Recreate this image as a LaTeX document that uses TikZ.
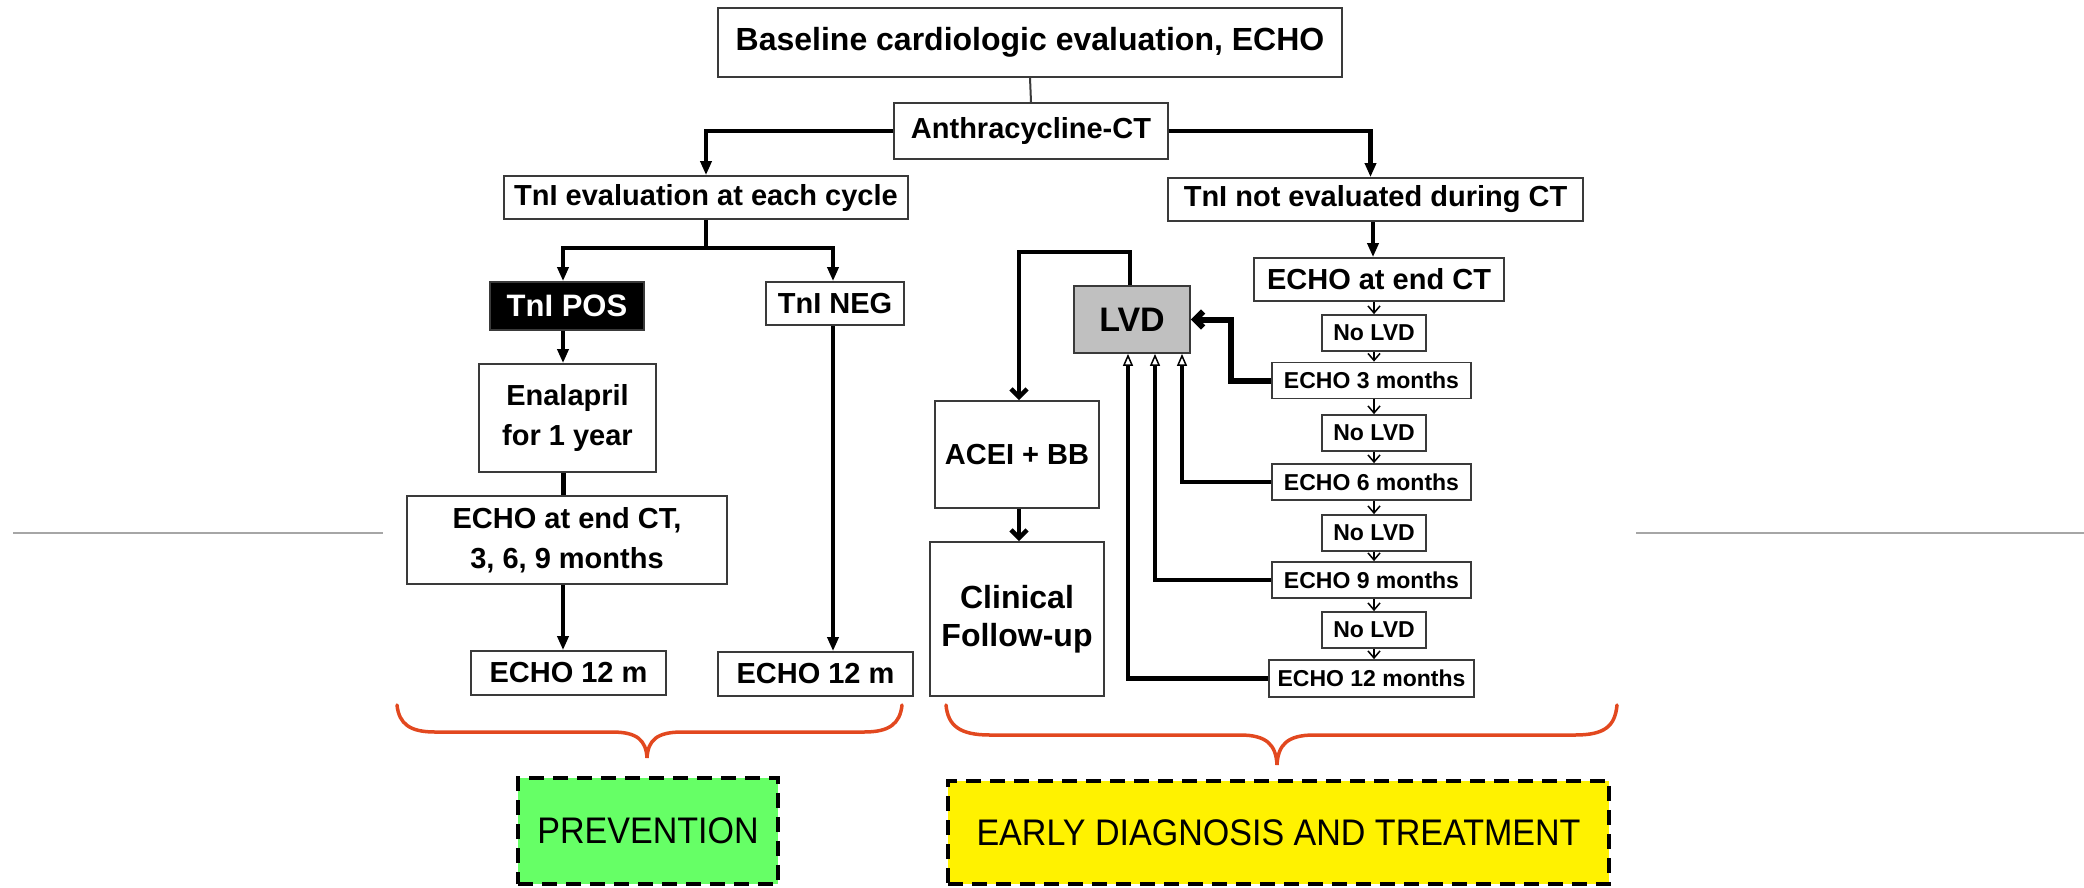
\documentclass[tikz,border=0pt]{standalone}
\usepackage{fontspec}
\setmainfont{Liberation Sans}
\newfontfamily\narrowfont[FakeStretch=0.92]{Liberation Sans}
\usetikzlibrary{arrows.meta,calc}
\definecolor{boxline}{HTML}{3A3A3A}
\definecolor{lvdgray}{HTML}{C0C0C0}
\definecolor{prevgreen}{HTML}{66FF66}
\definecolor{braceRed}{HTML}{E2481F}
\definecolor{sideGray}{HTML}{A6A6A6}
\begin{document}
\begin{tikzpicture}[x=1pt,y=-1pt,
  box/.style={draw=boxline, line width=1.8pt, fill=white, inner sep=0pt, align=center,
    font=\bfseries\fontsize{29}{40}\selectfont},
  sbox/.style={box, minimum height=36pt, font=\bfseries\fontsize{23}{28}\selectfont},
  dbox/.style={draw=black, line width=4.5pt, dash pattern=on 15pt off 9pt, inner sep=0pt,
    align=center, font=\narrowfont\fontsize{37}{42}\selectfont},
  conn/.style={line width=4.5pt, black},
  tri/.style={-{Triangle[length=14pt,width=11pt]}},
  barb/.style={-{Straight Barb[length=8pt,width=16pt]}},
  otri/.style={-{Triangle[open,length=12pt,width=10pt,line width=1.5pt,fill=white]}},
  small/.style={line width=1.5pt, black, -{Straight Barb[length=7pt,width=12pt]}},
  thinline/.style={line width=2pt, boxline},
  bracestyle/.style={line width=3.5pt, braceRed, line cap=round},
  sideline/.style={line width=2.5pt, sideGray}
]
\useasboundingbox (0,0) rectangle (2084,887);

% side lines
\coordinate (gl1) at (13,533); \coordinate (gl2) at (383,533);
\coordinate (gr1) at (1636,533); \coordinate (gr2) at (2084,533);
\draw[sideline] (gl1) -- (gl2);
\draw[sideline] (gr1) -- (gr2);

% nodes
\node[box, minimum width=624pt, minimum height=69pt, font=\bfseries\fontsize{32}{38}\selectfont] (base) at (1030,42.5) {Baseline cardiologic evaluation, ECHO};
\node[box, minimum width=274pt, minimum height=56pt] (anth) at (1031,131) {Anthracycline-CT};
\node[box, minimum width=404pt, minimum height=43pt] (tnle) at (706,197.5) {TnI evaluation at each cycle};
\node[box, minimum width=415pt, minimum height=43pt] (tnln) at (1375.5,199.5) {TnI not evaluated during CT};

\node[box, fill=black, text=white, minimum width=154pt, minimum height=48pt, font=\bfseries\fontsize{31}{36}\selectfont] (pos) at (567,306) {TnI POS};
\node[box, minimum width=138pt, minimum height=43pt] (neg) at (835,303.5) {TnI NEG};
\node[box, minimum width=177pt, minimum height=108pt] (enal) at (567.5,418) {Enalapril\\for 1 year};
\node[box, minimum width=320pt, minimum height=88pt] (e369) at (567,540) {ECHO at end CT,\\3, 6, 9 months};
\node[box, minimum width=195pt, minimum height=44pt] (e12a) at (568.5,673) {ECHO 12 m};
\node[box, minimum width=195pt, minimum height=44pt] (e12b) at (815.5,674) {ECHO 12 m};

\node[box, minimum width=250pt, minimum height=43pt] (ecend) at (1379,279.5) {ECHO at end CT};
\node[sbox, minimum width=104pt] (n1) at (1374,333) {No LVD};
\node[sbox, minimum width=199pt] (e3) at (1371.5,380.5) {ECHO 3 months};
\node[sbox, minimum width=104pt] (n2) at (1374,433) {No LVD};
\node[sbox, minimum width=199pt] (e6) at (1371.5,482) {ECHO 6 months};
\node[sbox, minimum width=104pt] (n3) at (1374,533) {No LVD};
\node[sbox, minimum width=199pt] (e9) at (1371.5,580) {ECHO 9 months};
\node[sbox, minimum width=104pt] (n4) at (1374,630) {No LVD};
\node[sbox, minimum width=205pt, minimum height=37pt] (e12m) at (1371.5,678.5) {ECHO 12 months};

\node[box, fill=lvdgray, minimum width=116pt, minimum height=67pt, font=\bfseries\fontsize{34}{40}\selectfont] (lvd) at (1132,319.5) {LVD};
\node[box, minimum width=164pt, minimum height=107pt] (acei) at (1017,454.5) {ACEI + BB};
\node[box, minimum width=174pt, minimum height=154pt, font=\bfseries\fontsize{32}{38}\selectfont] (clin) at (1017,619) {Clinical\\Follow-up};

\node[dbox, fill=prevgreen, minimum width=260pt, minimum height=106pt] (prev) at (648,831) {PREVENTION};
\node[dbox, fill=yellow, minimum width=661pt, minimum height=103pt] (early) at (1278.5,832.5) {EARLY DIAGNOSIS AND TREATMENT};

% connectors
\draw[thinline] (base.south) -- (anth.north);
\draw[conn, tri] (anth.west) -| (tnle.north);
\draw[conn, tri] (anth.east) -| ([xshift=-5pt]tnln.north);
\coordinate (sp) at (706,248);
\draw[conn] (tnle.south) -- (sp);
\draw[conn, tri] (sp) -| ([xshift=-4pt]pos.north);
\draw[conn, tri] (sp) -| ([xshift=-2pt]neg.north);
\draw[conn, tri] ([xshift=-4pt]pos.south) -- ([xshift=-4pt]pos.south |- enal.north);
\draw[conn] ([xshift=-4pt]enal.south) -- ([xshift=-4pt]enal.south |- e369.north);
\draw[conn, tri] ([xshift=-4pt]e369.south) -- ([xshift=-4pt]e369.south |- e12a.north);
\draw[conn, tri] ([xshift=-2pt]neg.south) -- ([xshift=-2pt]neg.south |- e12b.north);
\draw[conn, tri] ([xshift=-2.5pt]tnln.south) -- ([xshift=-2.5pt]tnln.south |- ecend.north);

\foreach \a/\b in {ecend/n1, n1/e3, e3/n2, n2/e6, e6/n3, n3/e9, e9/n4, n4/e12m}
  \draw[small] (n1.north |- \a.south) -- (n1.north |- \b.north);

\draw[conn, line width=6pt, barb] (e3.west) -- ++(-40,0) |- (lvd.east);
\draw[conn, otri] (e6.west) -| ([xshift=50pt]lvd.south);
\draw[conn, otri] (e9.west) -| ([xshift=23pt]lvd.south);
\draw[conn, otri] (e12m.west) -| ([xshift=-4pt]lvd.south);
\draw[conn, barb] ([xshift=-2pt]lvd.north) -- ++(0,-33) -| ([xshift=2pt]acei.north);
\draw[conn, barb] ([xshift=2pt]acei.south) -- ([xshift=2pt]acei.south |- clin.north);

% braces
\draw[bracestyle] (397,705) .. controls (399,724) and (410,732) .. (435,732) -- (612,732)
  .. controls (637,732) and (646,740) .. (647,758)
  .. controls (648,740) and (657,732) .. (682,732) -- (864,732)
  .. controls (889,732) and (900,724) .. (902,705);
\draw[bracestyle] (946,705) .. controls (948,726) and (960,735) .. (990,735) -- (1240,735)
  .. controls (1267,735) and (1276,745) .. (1277,765)
  .. controls (1278,745) and (1287,735) .. (1314,735) -- (1575,735)
  .. controls (1605,735) and (1615,726) .. (1617,705);
\end{tikzpicture}
\end{document}
